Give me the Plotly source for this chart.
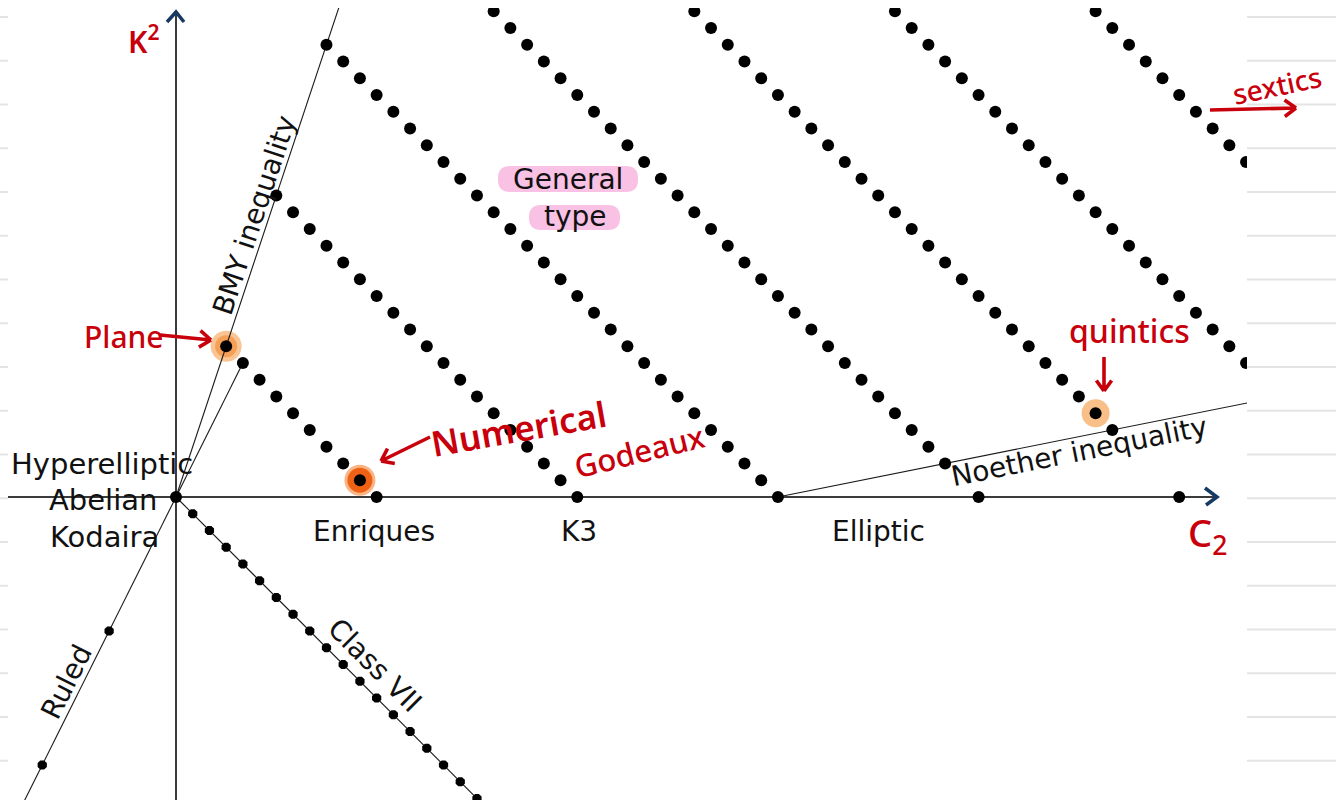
import math
import plotly.graph_objects as go

W, H = 1336, 800
# screen placement of the (c2, K^2) origin and pixels per unit
OX, OY = 176, 497
SX, SY = 16.72, 16.75


def dx(px):
    return (px - OX) / SX


def dy(py):
    return (OY - py) / SY


# ---- data -------------------------------------------------------------
# surfaces of general type lie on the lines K^2 + c2 = 12*chi
chi_bands = [1, 2, 3, 4, 5, 6, 7]
band_k2_top = [9, 18, 27, 29, 29, 29, 29]
band_k2_bottom = [1, 1, 1, 2, 4, 8, 20]

# K^2 = 0 : Abelian/Kodaira/hyperelliptic, Enriques, K3, elliptic
axis_c2 = [0, 12, 24, 36, 48, 60]
axis_k2 = [0, 0, 0, 0, 0, 0]

# class VII surfaces (K^2 = -c2)
class7_c2 = [0, 1, 2, 3, 4, 5, 6, 7, 8, 9, 10, 11, 12, 13, 14, 15, 16, 17, 18]
class7_k2 = [0, -1, -2, -3, -4, -5, -6, -7, -8, -9, -10, -11, -12, -13, -14, -15, -16, -17, -18]

# ruled surfaces over curves of genus 2 and 3
ruled_c2 = [-4, -8]
ruled_k2 = [-8, -16]

# highlighted surfaces
plane_pt = (3, 9)
godeaux_pt = (11, 1)
quintic_pt = (55, 5)

# inequality lines
bmy_c2 = [0, 10.2]
bmy_k2 = [0, 30.6]
ruled_line_c2 = [-10.5, 4]
ruled_line_k2 = [-21, 8]
noether_c2 = [36, 66]
noether_k2 = [0, 6]
class7_line_c2 = [0, 19.5]
class7_line_k2 = [0, -19.5]

gt_c2, gt_k2 = [], []
for chi, top, bot in zip(chi_bands, band_k2_top, band_k2_bottom):
    for k2 in range(bot, top + 1):
        gt_c2.append(12 * chi - k2)
        gt_k2.append(k2)

RED = "#c8000c"
NAVY = "#163a64"
INK = "#111111"

fig = go.Figure()

# highlight discs behind the points
fig.add_trace(go.Scatter(x=[plane_pt[0]], y=[plane_pt[1]], mode="markers",
                         marker=dict(size=31, color="rgba(247,178,112,0.75)", line=dict(width=0))))
fig.add_trace(go.Scatter(x=[plane_pt[0]], y=[plane_pt[1]], mode="markers",
                         marker=dict(size=22, color="rgba(244,150,70,0.8)", line=dict(width=0))))
fig.add_trace(go.Scatter(x=[quintic_pt[0]], y=[quintic_pt[1]], mode="markers",
                         marker=dict(size=28, color="rgba(247,180,115,0.85)", line=dict(width=0))))
fig.add_trace(go.Scatter(x=[godeaux_pt[0]], y=[godeaux_pt[1]], mode="markers",
                         marker=dict(size=31, color="rgba(248,130,50,0.6)", line=dict(width=0))))
fig.add_trace(go.Scatter(x=[godeaux_pt[0]], y=[godeaux_pt[1]], mode="markers",
                         marker=dict(size=25, color="#ef6216", line=dict(width=0))))

# thin boundary lines
for xs, ys in [(bmy_c2, bmy_k2), (ruled_line_c2, ruled_line_k2),
               (noether_c2, noether_k2), (class7_line_c2, class7_line_k2)]:
    fig.add_trace(go.Scatter(x=xs, y=ys, mode="lines",
                             line=dict(color="#1a1a1a", width=1.1)))

# coordinate axes
fig.add_trace(go.Scatter(x=[dx(8), dx(1215)], y=[0, 0], mode="lines",
                         line=dict(color="#3b3b3b", width=2)))
fig.add_trace(go.Scatter(x=[0, 0], y=[dy(800), dy(14)], mode="lines",
                         line=dict(color="#3b3b3b", width=2)))
# hand-drawn arrow heads on the axes
fig.add_trace(go.Scatter(x=[dx(1205), dx(1217), dx(1206)], y=[dy(488), dy(497), dy(505)],
                         mode="lines", line=dict(color=NAVY, width=3.5)))
fig.add_trace(go.Scatter(x=[dx(167), dx(176), dx(184)], y=[dy(22), dy(12), dy(22)],
                         mode="lines", line=dict(color=NAVY, width=3.5)))

# surfaces
DOT = dict(size=12, color="black", line=dict(width=0))
fig.add_trace(go.Scatter(x=gt_c2, y=gt_k2, mode="markers", marker=DOT))
fig.add_trace(go.Scatter(x=axis_c2, y=axis_k2, mode="markers", marker=DOT))
fig.add_trace(go.Scatter(x=class7_c2, y=class7_k2, mode="markers",
                         marker=dict(size=10, color="black", symbol="octagon", line=dict(width=0))))
fig.add_trace(go.Scatter(x=ruled_c2, y=ruled_k2, mode="markers",
                         marker=dict(size=10, color="black", symbol="octagon", line=dict(width=0))))


def rrect(px0, py0, px1, py1, r):
    """Rounded rectangle path (screen pixels -> data units)."""
    pts = [
        f"M {dx(px0 + r)},{dy(py0)}",
        f"L {dx(px1 - r)},{dy(py0)}",
        f"Q {dx(px1)},{dy(py0)} {dx(px1)},{dy(py0 + r)}",
        f"L {dx(px1)},{dy(py1 - r)}",
        f"Q {dx(px1)},{dy(py1)} {dx(px1 - r)},{dy(py1)}",
        f"L {dx(px0 + r)},{dy(py1)}",
        f"Q {dx(px0)},{dy(py1)} {dx(px0)},{dy(py1 - r)}",
        f"L {dx(px0)},{dy(py0 + r)}",
        f"Q {dx(px0)},{dy(py0)} {dx(px0 + r)},{dy(py0)}",
        "Z",
    ]
    return " ".join(pts)


shapes = []
PINK = "#f9c1e4"
shapes.append(dict(type="path", path=rrect(498, 166, 638, 192, 12), fillcolor=PINK,
                   line=dict(width=0), layer="below", xref="x", yref="y"))
shapes.append(dict(type="path", path=rrect(529, 205, 620, 230, 12), fillcolor=PINK,
                   line=dict(width=0), layer="below", xref="x", yref="y"))

# the diagram sits on a ruled notebook page
for x0, y0, x1, y1 in [(0, 0, 8, H), (1247, 0, W, H), (0, 0, W, 8)]:
    shapes.append(dict(type="rect", xref="paper", yref="paper",
                       x0=x0 / W, x1=x1 / W, y0=1 - y1 / H, y1=1 - y0 / H,
                       fillcolor="white", line=dict(width=0), layer="above"))
RULE_GAP = 43.75
k = 0
while 17 + k * RULE_GAP < H:
    yy = 1 - (17 + k * RULE_GAP) / H
    for x0, x1 in [(0, 8), (1247, W)]:
        shapes.append(dict(type="line", xref="paper", yref="paper",
                           x0=x0 / W, x1=x1 / W, y0=yy, y1=yy,
                           line=dict(color="#e4e4e4", width=2), layer="above"))
    k += 1


# hand-drawn pointer arrows (shaft plus open chevron head), screen pixels
def pointer(tx, ty, hx, hy, arm=14, spread=36):
    ang = math.atan2(hy - ty, hx - tx)
    path = f"M {dx(tx)},{dy(ty)} L {dx(hx)},{dy(hy)}"
    for s in (-1, 1):
        a = ang + math.pi + s * math.radians(spread)
        path += f" M {dx(hx + arm * math.cos(a))},{dy(hy + arm * math.sin(a))} L {dx(hx)},{dy(hy)}"
    shapes.append(dict(type="path", path=path, xref="x", yref="y", layer="above",
                       line=dict(color=RED, width=3.6)))


pointer(160, 335, 211, 340)
pointer(430, 437, 381, 461)
pointer(1104, 357, 1104, 391, arm=13)
pointer(1210, 110, 1296, 108)

ann = []


def label(text, px, py, size=28, angle=0, color=INK, family="DejaVu Sans", weight=400):
    ann.append(dict(text=text, x=dx(px), y=dy(py), xref="x", yref="y",
                    showarrow=False, xanchor="center", yanchor="middle",
                    textangle=angle,
                    font=dict(family=family, size=size, color=color, weight=weight)))


# printed labels
label("Hyperelliptic", 102, 464, size=29)
label("Abelian", 103, 500, size=29)
label("Kodaira", 104, 537, size=29)
label("Enriques", 374, 531)
label("K3", 579, 531)
label("Elliptic", 878, 531)
label("General", 568, 179)
label("type", 575, 216)
label("BMY inequality", 254, 215, angle=-71.6)
label("Noether inequality", 1079, 451, angle=-11.3)
label("Ruled", 66, 682, angle=-63.5)
label("Class VII", 375, 665, angle=45)

# handwritten notes
HAND = "Noto Sans"
label("K<sup>2</sup>", 143, 40, size=30, color=RED, family=HAND, weight=600)
label("C<sub>2</sub>", 1207, 534, size=38, color=RED, family=HAND, weight=500)
label("Plane", 124, 336, size=30, color=RED, family=HAND, weight=500)
label("Numerical", 518, 428, size=35, angle=-10, color=RED, family=HAND, weight=600)
label("Godeaux", 639, 451, size=31, angle=-14, color=RED, family=HAND, weight=500)
label("quintics", 1129, 330, size=32, color=RED, family=HAND, weight=500)
label("sextics", 1277, 85, size=28, angle=-12, color=RED, family=HAND, weight=500)

fig.update_layout(
    width=W, height=H,
    margin=dict(l=0, r=0, t=0, b=0),
    paper_bgcolor="white", plot_bgcolor="white",
    showlegend=False, hovermode=False,
    xaxis=dict(range=[dx(0), dx(W)], visible=False, fixedrange=True),
    yaxis=dict(range=[dy(H), dy(0)], visible=False, fixedrange=True),
    shapes=shapes, annotations=ann,
)

fig.write_html("out.html")
